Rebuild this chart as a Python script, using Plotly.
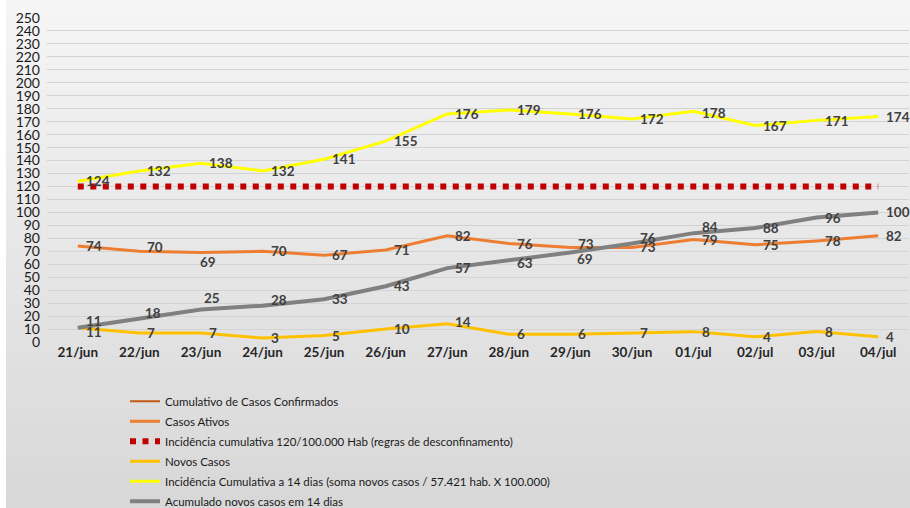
import plotly.graph_objects as go

dates = ["21/jun", "22/jun", "23/jun", "24/jun", "25/jun", "26/jun", "27/jun",
         "28/jun", "29/jun", "30/jun", "01/jul", "02/jul", "03/jul", "04/jul"]
incidencia_14 = [124, 132, 138, 132, 141, 155, 176, 179, 176, 172, 178, 167, 171, 174]
casos_ativos = [74, 70, 69, 70, 67, 71, 82, 76, 73, 73, 79, 75, 78, 82]
novos_casos = [11, 7, 7, 3, 5, 10, 14, 6, 6, 7, 8, 4, 8, 4]
acumulado_14 = [11, 18, 25, 28, 33, 43, 57, 63, 69, 76, 84, 88, 96, 100]
limite = [120] * len(dates)
y_ticks = list(range(0, 251, 10))

# label placement (style): vertical pixel shifts per point, horizontal offsets
shift_y_ativos = [0, 4, -9, 0, 0, 0, 0, 0, 3, 0, 0, 0, 0, 0]
shift_x_ativos = [8, 8, -1, 8, 8, 8, 8, 8, 8, 8, 8, 8, 8, 8]
shift_y_novos = [-4, 0, 0, 0, 0, 0, 2, 0, 0, 0, 0, 0, 0, 0]
shift_y_acum = [7, 6, 12, 6, 0, 0, 0, -3, -6, 6, 6, 0, 0, 0]
shift_x_acum = [8, 6, 3, 8, 8, 8, 8, 8, 7, 8, 8, 8, 8, 8]
shift_y_inc = [0, 0, 0, 0, 0, 0, 0, 0, 0, 0, -2, 0, -1, 0]

W, H = 910, 508
ml, mr, mt, mb = 47, 1, 18, 166
pw, ph = W - ml - mr, H - mt - mb

FONT = "Lato, Open Sans, Liberation Sans, sans-serif"
lab_font = dict(family=FONT, size=13.5, color="#404040", weight="bold")

fig = go.Figure()

# background gradient (style only)
n = 40
shapes = []
top_c, bot_c = (245, 245, 245), (216, 216, 216)
y0p, y1p = -mb / ph, 1 + mt / ph
for i in range(n):
    t = i / (n - 1)
    c = tuple(int(round(top_c[k] + (bot_c[k] - top_c[k]) * t)) for k in range(3))
    ya = y1p - (y1p - y0p) * i / n
    yb = y1p - (y1p - y0p) * (i + 1) / n
    shapes.append(dict(type="rect", xref="paper", yref="paper", x0=-ml / pw, x1=1 + mr / pw,
                       y0=yb - 0.002, y1=ya, fillcolor="rgb(%d,%d,%d)" % c, line_width=0, layer="below"))
shapes.append(dict(type="rect", xref="paper", yref="paper", x0=-ml / pw, x1=-(ml - 6) / pw,
                   y0=y0p, y1=y1p, fillcolor="white", line_width=0, layer="below"))


def line_trace(name, y, color, width, dash=None, group=""):
    ln = dict(color=color, width=width)
    if dash:
        ln["dash"] = dash
    return go.Scatter(x=dates, y=y, name=name, mode="lines", line=ln, legendgroup=group, hoverinfo="skip")


fig.add_trace(go.Scatter(x=[None], y=[None], name="Cumulativo de Casos Confirmados", mode="lines",
                         line=dict(color="#C55A11", width=2), legendgroup="g1"))
fig.add_trace(line_trace("Casos Ativos", casos_ativos, "#ED7D31", 3, group="g2"))
fig.add_trace(line_trace("Incidência cumulativa 120/100.000 Hab (regras de desconfinamento)", limite,
                         "#C00000", 6, "6px,6.5px", group="g3"))
fig.add_trace(line_trace("Novos Casos", novos_casos, "#FFC000", 3, group="g4"))
fig.add_trace(line_trace("Incidência Cumulativa a 14 dias (soma novos casos / 57.421 hab. X 100.000)",
                         incidencia_14, "#FFFF00", 3, group="g5"))
fig.add_trace(line_trace("Acumulado novos casos em 14 dias", acumulado_14, "#808080", 4, group="g6"))

annotations = []


def add_labels(values, sy, sx=None):
    for i, (d, v) in enumerate(zip(dates, values)):
        annotations.append(dict(x=d, y=v, xref="x", yref="y", text=str(v), showarrow=False,
                                xanchor="left", yanchor="middle", xshift=(sx[i] if sx else 8) - 2,
                                yshift=sy[i], font=lab_font))


add_labels(casos_ativos, shift_y_ativos, shift_x_ativos)
add_labels(novos_casos, shift_y_novos)
add_labels(incidencia_14, shift_y_inc)
add_labels(acumulado_14, shift_y_acum, shift_x_acum)

fig.update_layout(
    width=W, height=H,
    margin=dict(l=ml, r=mr, t=mt, b=mb, autoexpand=False),
    paper_bgcolor="#e6e6e6", plot_bgcolor="rgba(0,0,0,0)",
    shapes=shapes, annotations=annotations,
    showlegend=True,
    legend=dict(x=0.0905, y=-0.138, xanchor="left", yanchor="top", orientation="v",
                bgcolor="rgba(0,0,0,0)", font=dict(family=FONT, size=11.5, color="#1a1a1a"),
                tracegroupgap=1, itemwidth=30),
    font=dict(family=FONT),
)
fig.update_xaxes(type="category", range=[-0.5, 13.5], showgrid=False, showline=False, zeroline=False,
                 ticks="", tickfont=dict(size=13.5, color="#262626", family=FONT, weight="bold"))
fig.update_yaxes(range=[0, 250], tickvals=y_ticks, showgrid=True, gridcolor="#d3d3d3", gridwidth=1,
                 zeroline=False, showline=False, ticks="", ticklabelstandoff=6,
                 tickfont=dict(size=14, color="#1a1a1a", family=FONT))

fig.write_html("out.html", config={"displayModeBar": False},
               post_script="document.body.style.margin='0';document.body.style.overflow='hidden';")
